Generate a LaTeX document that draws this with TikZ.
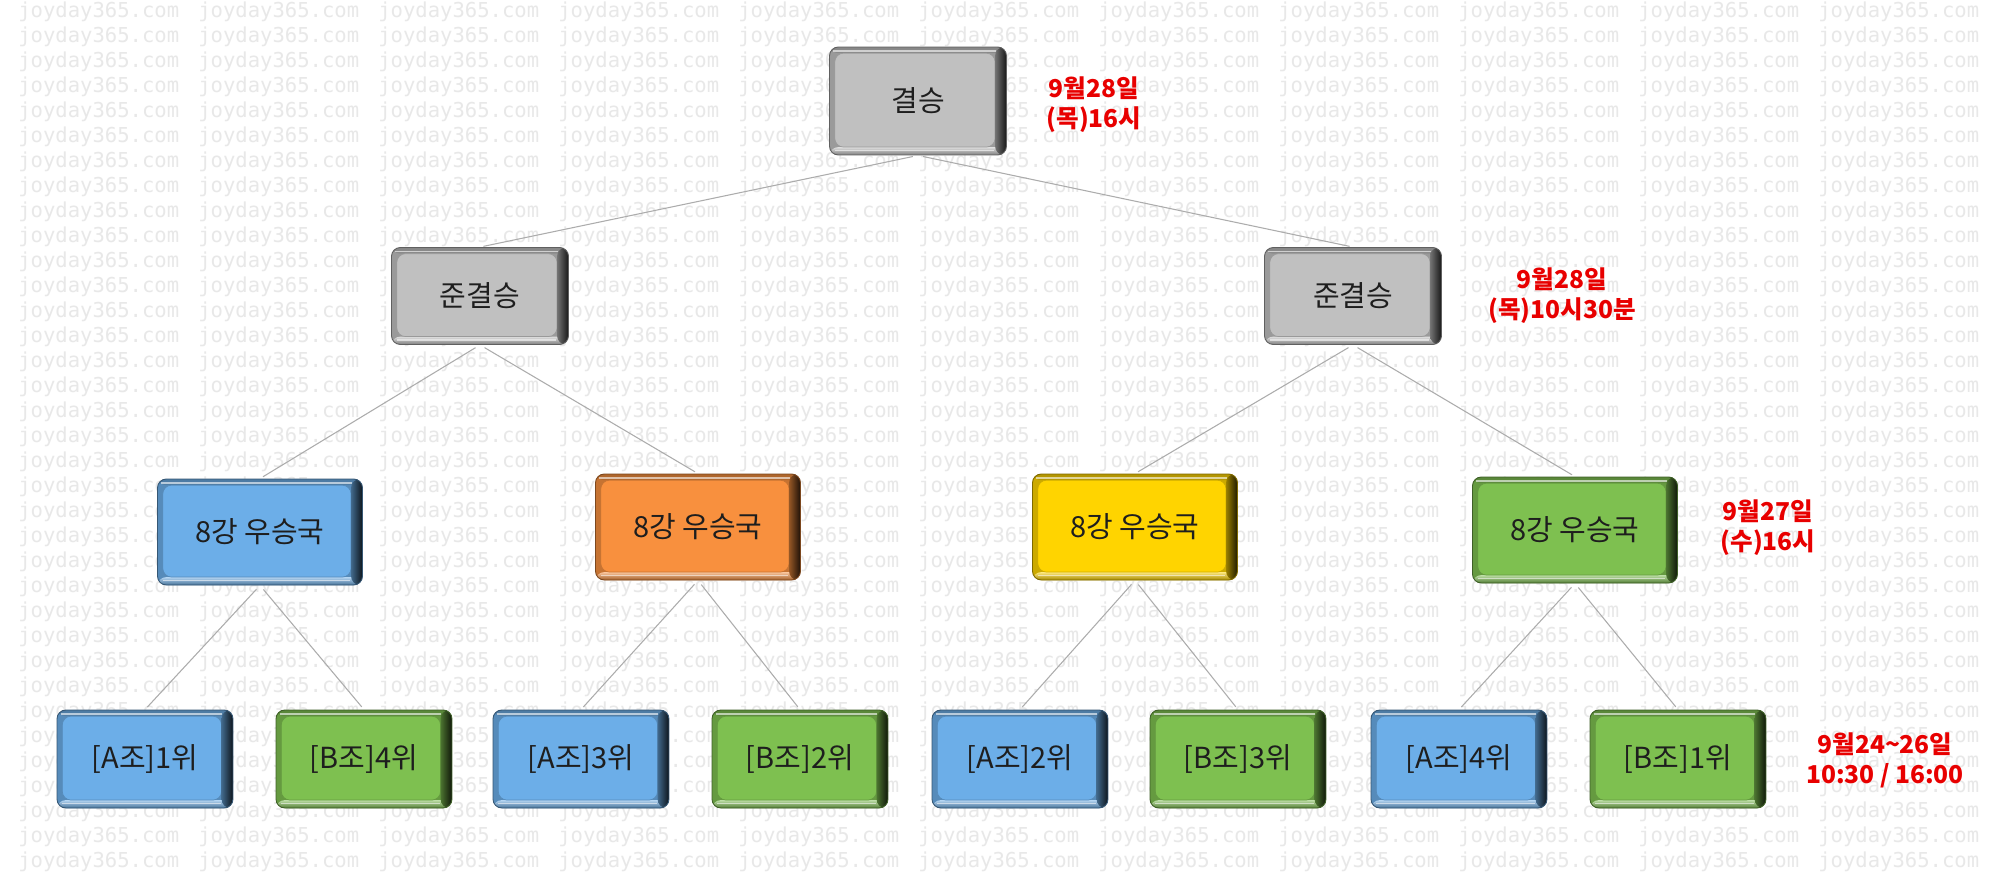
\documentclass[tikz,border=0pt]{standalone}
\usepackage{fontspec}
\setmainfont{Noto Sans CJK KR}
\newfontfamily\wmfont{DejaVu Sans Mono}
\usetikzlibrary{calc,positioning}
\definecolor{cupgray}{RGB}{192,192,192}
\definecolor{cupblue}{RGB}{108,174,232}
\definecolor{cuporange}{RGB}{248,144,62}
\definecolor{cupyellow}{RGB}{255,212,0}
\definecolor{cupgreen}{RGB}{126,192,80}
\definecolor{cupred}{RGB}{232,0,0}
\definecolor{cupink}{RGB}{30,30,30}
\definecolor{wmgray}{RGB}{232,232,232}
\tikzset{
  cupbox/.style={rectangle, rounded corners=5pt, fill=#1!80!black, draw=#1!50!black,
    line width=0.5pt, text=cupink, font=\fontsize{16.5}{19}\selectfont, inner sep=0pt,
    path picture={
      % top bevel
      \shade[top color=#1!70!black, bottom color=#1!55!white]
        (path picture bounding box.north west)
        rectangle ([yshift=-3.5pt]path picture bounding box.north east);
      % bottom bevel
      \shade[top color=#1!50!white, bottom color=#1!65!black]
        ([yshift=4.5pt]path picture bounding box.south west)
        rectangle (path picture bounding box.south east);
      % face
      \fill[#1] ([shift={(3pt,-3.5pt)}]path picture bounding box.north west)
        rectangle ([shift={(-6.5pt,4.5pt)}]path picture bounding box.south east);
      \draw[#1!80!black, line width=0.4pt]
        ([shift={(3pt,-3.5pt)}]path picture bounding box.north west)
        rectangle ([shift={(-6.5pt,4.5pt)}]path picture bounding box.south east);
      % right bevel
      \shade[left color=#1!60!black, right color=#1!12!black]
        ([xshift=-6.5pt]path picture bounding box.north east)
        rectangle (path picture bounding box.south east);
      \draw[white, opacity=.6, line width=1pt]
        ([shift={(2pt,-2.2pt)}]path picture bounding box.north west)
        -- ([shift={(-6pt,-2.2pt)}]path picture bounding box.north east);
      \draw[white, opacity=.55, line width=1pt]
        ([shift={(3pt,2.6pt)}]path picture bounding box.south west)
        -- ([shift={(-7pt,2.6pt)}]path picture bounding box.south east);
    }},
  finalbox/.style={cupbox=#1, minimum width=3.54cm, minimum height=2.16cm},
  semibox/.style={cupbox=#1, minimum width=3.54cm, minimum height=1.94cm},
  quarterbox/.style={cupbox=#1, minimum width=4.1cm, minimum height=2.12cm},
  groupbox/.style={cupbox=#1, minimum width=3.52cm, minimum height=1.96cm},
  datelabel/.style={text=cupred, align=center, font=\bfseries\fontsize{14}{17}\selectfont},
  wmark/.style={text=wmgray, anchor=west, inner sep=0pt, font=\wmfont\fontsize{11.7}{12}\selectfont},
  link/.style={draw=gray!65, line width=0.6pt, shorten <=3pt, shorten >=2pt}
}
\begin{document}
\begin{tikzpicture}[x=0.02cm, y=-0.02cm]
  \useasboundingbox (0,0) rectangle (1996,877);
  \fill[white] (0,0) rectangle (1996,877);
  % watermark
  \foreach \i in {0,...,10}
    \foreach \j in {0,...,34}
      \node[wmark] at ({18+180*\i}, {12+25*\j}) {joyday365.com};

  \node[finalbox=cupgray] (final) at (918,101) {결승};
  \node[semibox=cupgray] (semiA) at (480,296) {준결승};
  \node[semibox=cupgray] (semiB) at (1353,296) {준결승};
  \node[quarterbox=cupblue] (qA) at (260,532) {8강 우승국};
  \node[quarterbox=cuporange] (qB) at (698,527) {8강 우승국};
  \node[quarterbox=cupyellow] (qC) at (1135,527) {8강 우승국};
  \node[quarterbox=cupgreen] (qD) at (1575,530) {8강 우승국};
  \node[groupbox=cupblue] (gA1) at (145,759) {[A조]1위};
  \node[groupbox=cupgreen] (gB4) at (364,759) {[B조]4위};
  \node[groupbox=cupblue] (gA3) at (581,759) {[A조]3위};
  \node[groupbox=cupgreen] (gB2) at (800,759) {[B조]2위};
  \node[groupbox=cupblue] (gA2) at (1020,759) {[A조]2위};
  \node[groupbox=cupgreen] (gB3) at (1238,759) {[B조]3위};
  \node[groupbox=cupblue] (gA4) at (1459,759) {[A조]4위};
  \node[groupbox=cupgreen] (gB1) at (1678,759) {[B조]1위};

  \draw[link] (final.south) -- (semiA.north);
  \draw[link] (final.south) -- (semiB.north);
  \draw[link] (semiA.south) -- (qA.north);
  \draw[link] (semiA.south) -- (qB.north);
  \draw[link] (semiB.south) -- (qC.north);
  \draw[link] (semiB.south) -- (qD.north);
  \draw[link] (qA.south) -- (gA1.north);
  \draw[link] (qA.south) -- (gB4.north);
  \draw[link] (qB.south) -- (gA3.north);
  \draw[link] (qB.south) -- (gB2.north);
  \draw[link] (qC.south) -- (gA2.north);
  \draw[link] (qC.south) -- (gB3.north);
  \draw[link] (qD.south) -- (gA4.north);
  \draw[link] (qD.south) -- (gB1.north);

  \node[datelabel] (dFinal) at (1094,105) {9월28일\\(목)16시};
  \node[datelabel] (dSemi) at (1562,296) {9월28일\\(목)10시30분};
  \node[datelabel] (dQuarter) at (1768,528) {9월27일\\(수)16시};
  \node[datelabel] (dGroup) at (1885,760) {9월24\textasciitilde26일\\10:30 / 16:00};
\end{tikzpicture}
\end{document}
